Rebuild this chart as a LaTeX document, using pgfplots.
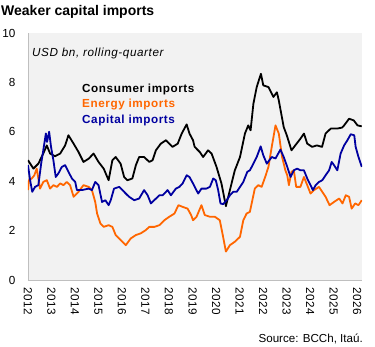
\documentclass[border=0pt]{standalone}
\usepackage{fontspec}
\setmainfont{Liberation Sans}
\usepackage{pgfplots}
\usepackage{pgfplotstable}
\pgfplotsset{compat=1.18}
\definecolor{bgcol}{HTML}{F2F2F2}
\definecolor{axgray}{HTML}{BFBFBF}
\definecolor{energy}{HTML}{FF6600}
\definecolor{capital}{HTML}{0000A0}

\pgfplotstableread{
t v
2012.00 4.85
2012.23 4.51
2012.44 4.71
2012.65 5.12
2012.80 5.45
2012.94 5.12
2013.15 5.01
2013.37 5.12
2013.58 5.45
2013.72 5.86
2013.94 5.52
2014.15 5.18
2014.36 4.78
2014.58 4.91
2014.79 5.12
2015.00 4.78
2015.22 4.51
2015.43 4.04
2015.59 4.85
2015.73 4.98
2015.94 4.71
2016.09 4.17
2016.23 4.04
2016.44 4.11
2016.59 4.65
2016.73 4.98
2016.94 4.98
2017.16 4.78
2017.30 4.85
2017.44 5.25
2017.65 5.52
2017.87 5.66
2018.01 5.52
2018.15 5.39
2018.37 5.52
2018.54 5.93
2018.75 6.30
2018.87 5.93
2019.02 5.66
2019.09 5.39
2019.31 5.18
2019.45 4.98
2019.66 5.25
2019.81 5.12
2020.02 4.58
2020.23 3.91
2020.42 2.99
2020.59 3.64
2020.80 4.44
2021.02 4.98
2021.23 5.93
2021.37 6.26
2021.47 6.06
2021.59 7.14
2021.73 7.81
2021.91 8.35
2022.01 7.88
2022.23 7.81
2022.44 7.41
2022.59 7.60
2022.67 7.27
2022.88 6.19
2023.01 5.86
2023.21 5.25
2023.37 5.45
2023.59 5.72
2023.74 5.93
2023.88 5.52
2024.09 5.39
2024.29 5.45
2024.51 5.39
2024.66 5.93
2024.88 6.13
2025.15 6.13
2025.36 6.17
2025.45 6.26
2025.66 6.53
2025.86 6.46
2026.02 6.26
2026.20 6.22
}\consumer

\pgfplotstableread{
t v
2012.00 3.64
2012.04 4.04
2012.16 4.11
2012.27 4.24
2012.37 4.51
2012.44 4.11
2012.51 3.70
2012.65 3.97
2012.80 4.04
2012.94 3.70
2013.08 3.84
2013.23 3.77
2013.37 3.91
2013.51 3.84
2013.65 3.97
2013.79 3.84
2013.94 3.37
2014.15 3.57
2014.36 3.84
2014.58 3.77
2014.72 3.64
2014.86 3.16
2014.94 2.69
2015.08 2.29
2015.22 2.15
2015.43 2.22
2015.59 2.15
2015.73 1.82
2015.94 1.62
2016.16 1.41
2016.37 1.68
2016.59 1.82
2016.80 1.89
2017.01 2.02
2017.16 2.15
2017.37 2.15
2017.59 2.22
2017.80 2.42
2018.01 2.56
2018.23 2.69
2018.40 3.03
2018.58 2.96
2018.79 2.89
2018.94 2.63
2019.02 2.42
2019.17 2.56
2019.38 3.03
2019.52 2.63
2019.74 2.56
2019.95 2.56
2020.16 2.42
2020.30 1.75
2020.42 1.15
2020.59 1.41
2020.80 1.55
2021.02 1.75
2021.16 2.42
2021.30 2.69
2021.44 2.76
2021.65 3.70
2021.80 3.84
2021.94 3.77
2022.09 4.17
2022.23 4.58
2022.37 5.39
2022.53 6.26
2022.67 5.93
2022.81 4.98
2022.95 4.44
2023.03 4.24
2023.10 3.84
2023.21 4.38
2023.31 4.44
2023.41 3.77
2023.59 3.77
2023.74 4.17
2023.88 3.84
2024.02 3.50
2024.17 3.64
2024.38 3.77
2024.52 3.57
2024.66 3.37
2024.83 3.03
2025.02 3.16
2025.24 3.30
2025.38 3.10
2025.52 3.43
2025.66 3.37
2025.77 2.89
2025.92 3.10
2026.06 3.03
2026.20 3.23
}\energy

\pgfplotstableread{
t v
2012.00 4.65
2012.09 4.04
2012.18 3.57
2012.30 3.77
2012.44 3.84
2012.56 4.71
2012.65 5.25
2012.76 5.93
2012.81 5.59
2012.90 6.00
2012.98 5.39
2013.08 4.85
2013.18 4.17
2013.29 4.31
2013.44 4.58
2013.58 4.65
2013.72 4.38
2013.87 4.11
2014.01 3.97
2014.08 3.64
2014.29 3.64
2014.58 3.70
2014.72 3.64
2014.86 3.97
2015.00 3.84
2015.15 3.16
2015.29 3.23
2015.43 3.03
2015.52 3.23
2015.66 3.70
2015.88 3.77
2016.02 3.64
2016.16 3.50
2016.30 3.37
2016.52 3.23
2016.73 3.30
2016.94 3.64
2017.09 3.43
2017.23 3.10
2017.37 3.23
2017.59 3.43
2017.73 3.43
2017.94 3.64
2018.08 3.43
2018.29 3.70
2018.44 3.77
2018.58 3.91
2018.75 4.24
2018.87 4.17
2019.02 3.91
2019.24 3.50
2019.38 3.70
2019.59 3.70
2019.74 3.77
2019.88 4.11
2019.99 4.04
2020.09 3.64
2020.19 3.10
2020.30 3.07
2020.45 3.23
2020.59 3.43
2020.73 3.57
2020.88 3.57
2021.02 3.77
2021.16 3.97
2021.33 4.38
2021.44 4.44
2021.59 4.71
2021.73 4.98
2021.90 5.41
2022.01 5.05
2022.16 4.71
2022.37 4.98
2022.53 4.92
2022.74 5.28
2022.88 4.98
2023.03 4.58
2023.17 4.17
2023.31 4.44
2023.45 4.51
2023.59 4.44
2023.74 4.44
2023.88 4.11
2024.02 3.84
2024.12 3.64
2024.24 3.84
2024.38 3.97
2024.52 4.04
2024.66 4.24
2024.81 4.44
2024.92 4.78
2025.02 4.65
2025.16 4.44
2025.30 5.12
2025.45 5.45
2025.59 5.66
2025.73 5.90
2025.88 5.86
2025.94 5.39
2026.06 4.98
2026.20 4.58
}\capital

\begin{document}
\begin{tikzpicture}
\useasboundingbox (-28pt,-66pt) rectangle (347pt,280pt);
\begin{axis}[
  scale only axis,
  width=334pt, height=247pt,
  at={(0pt,0pt)}, anchor=south west,
  xmin=2012, xmax=2026.21,
  ymin=0, ymax=10,
  axis x line*=bottom,
  axis y line*=left,
  axis line style={draw=axgray, line width=0.9pt},
  axis background/.style={fill=bgcol},
  major tick length=0pt,
  xtick={2012,2013,...,2026},
  ytick={0,2,4,6,8,10},
  /pgf/number format/assume math mode=true,
  /pgf/number format/1000 sep={},
  xticklabel style={font=\fontsize{11.7}{14}\selectfont\addfontfeatures{LetterSpace=5},
    rotate=-90, anchor=west, inner xsep=7pt},
  yticklabel style={font=\fontsize{11.7}{14}\selectfont, xshift=-9pt},
  every axis plot/.append style={line width=1.8pt, line join=round, no markers},
]
\addplot[black] table[x=t,y=v] {\consumer};
\addplot[energy] table[x=t,y=v] {\energy};
\addplot[capital] table[x=t,y=v] {\capital};
\end{axis}
\node[anchor=base west, inner sep=0pt] at (-27pt,265pt)
  {\fontsize{14}{16}\selectfont\bfseries Weaker capital imports};
\node[anchor=base west, inner sep=0pt] at (4pt,223pt)
  {\fontsize{11.7}{14}\selectfont\itshape\addfontfeatures{LetterSpace=5}USD bn, rolling-quarter};
\node[anchor=base west, inner sep=0pt] at (54pt,187.5pt)
  {\fontsize{11.7}{14}\selectfont\bfseries\addfontfeatures{LetterSpace=5}Consumer imports};
\node[anchor=base west, inner sep=0pt, text=energy] at (54pt,172.5pt)
  {\fontsize{11.7}{14}\selectfont\bfseries\addfontfeatures{LetterSpace=5}Energy imports};
\node[anchor=base west, inner sep=0pt, text=capital] at (54pt,156.8pt)
  {\fontsize{11.7}{14}\selectfont\bfseries\addfontfeatures{LetterSpace=5}Capital imports};
\node[anchor=base east, inner sep=0pt] at (335pt,-62pt)
  {\fontsize{11.6}{14}\selectfont Source: BCCh, Itaú.};
\end{tikzpicture}
\end{document}
